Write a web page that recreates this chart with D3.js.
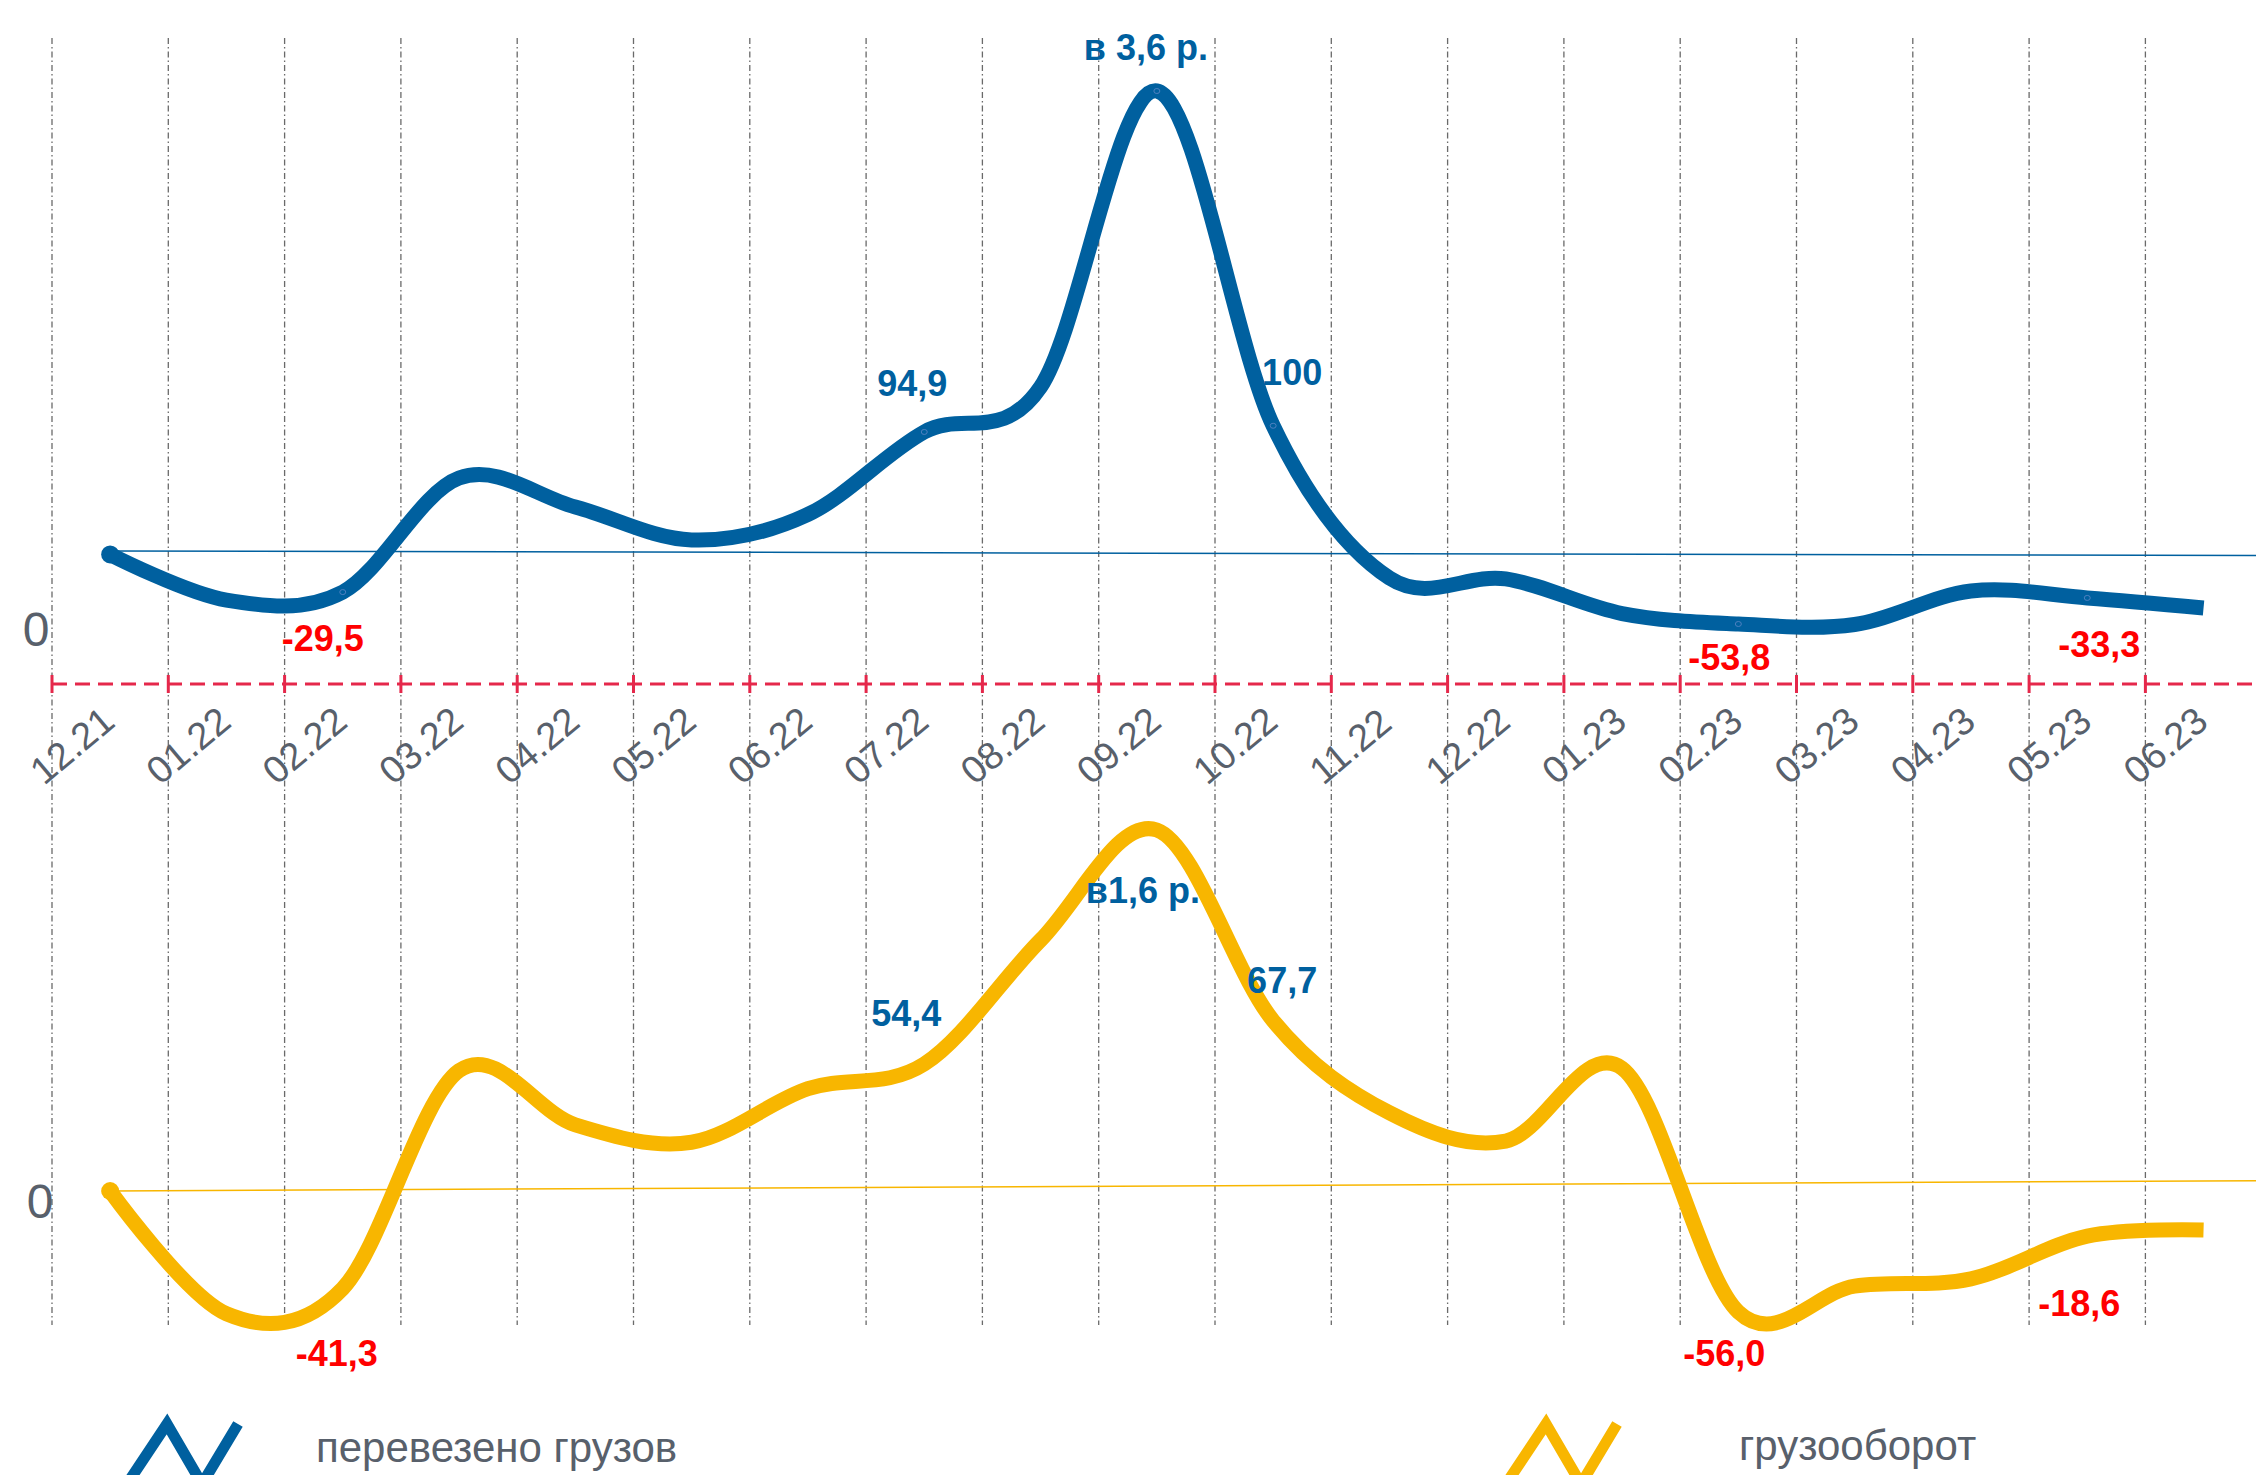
<!DOCTYPE html>
<meta charset="utf-8">
<title>Перевезено грузов и грузооборот</title>
<style>
  body { margin: 0; background: #fff; }
  svg { display: block; }
  text { font-family: 'Liberation Sans', Arial, sans-serif; }
</style>
<body>
<script src="https://d3js.org/d3.v7.min.js"></script>
<script>
// 12.21 ~ 06.23, 19 months
var months = ['12.21','01.22','02.22','03.22','04.22','05.22','06.22','07.22','08.22','09.22',
              '10.22','11.22','12.22','01.23','02.23','03.23','04.23','05.23','06.23'];

// перевезено грузов (top line)
var cargoValues = [-1.4, -27.1, -22.6, 41.7, 25.4, 6.8, 21.2, 67.7, 93.1, 260,
                   71.2, -14.7, -15.2, -34.7, -40.6, -40.9, -22.0, -25.9, -31.6];
// грузооборот (bottom line)
var turnoverValues = [0, -20.4, -16.2, 20.0, 11.0, 8.1, 17.0, 21.1, 41.7, 60.0,
                      28.3, 13.0, 8.3, 20.4, -20.1, -15.8, -14.6, -7.5, -6.5];

// thin zero lines: value at first point, value at right edge
var cargoRef = [0.6, -2.0];
var turnoverRef = [0, 1.7];

// data labels
var cargoLabelIdx = [2, 7, 9, 10, 14, 17];
var cargoLabels = ['-29,5', '94,9', 'в 3,6 р.', '100', '-53,8', '-33,3'];
var turnoverLabelIdx = [2, 7, 9, 10, 14, 17];
var turnoverLabels = ['-41,3', '54,4', 'в1,6 р.', '67,7', '-56,0', '-18,6'];

var legendNames = ['перевезено грузов', 'грузооборот'];

// layout ---------------------------------------------------------------
var W = 2256, H = 1475;
var blue = '#00609f', orange = '#f8b600', red = '#ff0000', axisRed = '#e5284b';
var gray = '#58606b', gridGray = '#6a6a6a';

// label offsets from their point (dx of text centre, dy of baseline)
var cargoLabelOff = [[-20, 59], [-12, -36], [-11, -31], [19, -41], [-9, 46], [12, 59]];
var turnoverLabelOff = [[-6, 78], [-18, -38], [-14, 73], [9, -28], [-14, 54], [-8, 80]];

var svg = d3.select('body').append('svg')
  .attr('width', W)
  .attr('height', H);

var x = d3.scaleBand()
  .domain(months)
  .range([52, 52 + 116.3 * months.length]);
var cx = function(i){ return x(months[i]) + x.bandwidth() / 2; };

var yTop = d3.scaleLinear().domain([0, 260]).range([552, 91]);
var yBot = d3.scaleLinear().domain([0, 60]).range([1191, 830]);

// vertical grid ----------------------------------------------------------
svg.append('g').selectAll('line')
  .data(months).enter().append('line')
    .attr('x1', function(d){ return x(d); })
    .attr('x2', function(d){ return x(d); })
    .attr('y1', 38)
    .attr('y2', 1325)
    .style('stroke', gridGray)
    .style('stroke-width', 1.3)
    .style('stroke-dasharray', '6,3,1.5,3');

// thin zero lines
function refLine(vals, y, color){
  svg.append('line')
    .attr('x1', cx(0)).attr('y1', y(vals[0]))
    .attr('x2', x.range()[1]).attr('y2', y(vals[1]))
    .style('stroke', color)
    .style('stroke-width', 1.5);
}
refLine(cargoRef, yTop, blue);
refLine(turnoverRef, yBot, orange);

// red dashed axis with ticks --------------------------------------------
var axisY = 684;
svg.append('line')
  .attr('x1', x.range()[0]).attr('x2', W)
  .attr('y1', axisY).attr('y2', axisY)
  .style('stroke', axisRed)
  .style('stroke-width', 3)
  .style('stroke-dasharray', '15,8');
svg.append('g').selectAll('line')
  .data(months).enter().append('line')
    .attr('x1', function(d){ return x(d); })
    .attr('x2', function(d){ return x(d); })
    .attr('y1', axisY - 9)
    .attr('y2', axisY + 9)
    .style('stroke', axisRed)
    .style('stroke-width', 3);

// month labels
svg.append('g').selectAll('text')
  .data(months).enter().append('text')
    .attr('transform', function(d){ return 'translate(' + (x(d) - 8) + ',786) rotate(-40)'; })
    .style('font-size', '38px')
    .style('fill', gray)
    .text(function(d){ return d; });

// "0" labels
svg.append('text').attr('x', 36).attr('y', 646)
  .style('font-size', '48px').style('fill', gray).style('text-anchor', 'middle').text('0');
svg.append('text').attr('x', 40).attr('y', 1218)
  .style('font-size', '48px').style('fill', gray).style('text-anchor', 'middle').text('0');

// lines -------------------------------------------------------------------
function drawSeries(vals, y, color){
  var line = d3.line()
    .x(function(d, i){ return cx(i); })
    .y(function(d){ return y(d); })
    .curve(d3.curveCatmullRom.alpha(0));
  svg.append('path')
    .attr('d', line(vals))
    .style('fill', 'none')
    .style('stroke', color)
    .style('stroke-width', 15);
  svg.append('circle')
    .attr('cx', cx(0)).attr('cy', y(vals[0]))
    .attr('r', 9)
    .style('fill', color);
}
drawSeries(cargoValues, yTop, blue);
drawSeries(turnoverValues, yBot, orange);

// small markers on the labelled points of the top line
svg.append('g').selectAll('ellipse')
  .data(cargoLabelIdx).enter().append('ellipse')
    .attr('cx', function(d){ return cx(d); })
    .attr('cy', function(d){ return yTop(cargoValues[d]); })
    .attr('rx', 3).attr('ry', 2.5)
    .style('fill', 'none')
    .style('stroke', '#4d80c0')
    .style('stroke-width', 1);

function drawLabels(idx, txt, off, vals, y){
  svg.append('g').selectAll('text')
    .data(idx).enter().append('text')
      .attr('x', function(d, k){ return cx(d) + off[k][0]; })
      .attr('y', function(d, k){ return y(vals[d]) + off[k][1]; })
      .style('text-anchor', 'middle')
      .style('font-size', '36px')
      .style('font-weight', 'bold')
      .style('fill', function(d, k){ return txt[k].charAt(0) == '-' ? red : blue; })
      .text(function(d, k){ return txt[k]; });
}
drawLabels(cargoLabelIdx, cargoLabels, cargoLabelOff, cargoValues, yTop);
drawLabels(turnoverLabelIdx, turnoverLabels, turnoverLabelOff, turnoverValues, yBot);

// legend ------------------------------------------------------------------
var legendIcon = [[0, 8], [40, -52], [75, 8], [111, -52]];
var legendPos = [[127, 1476, 316, 1462], [1506, 1476, 1739, 1460]];
var legendColors = [blue, orange];
for (var i = 0; i < 2; i++) {
  svg.append('path')
    .attr('transform', 'translate(' + legendPos[i][0] + ',' + legendPos[i][1] + ')')
    .attr('d', d3.line()(legendIcon))
    .style('fill', 'none')
    .style('stroke', legendColors[i])
    .style('stroke-width', 11);
  svg.append('text')
    .attr('x', legendPos[i][2])
    .attr('y', legendPos[i][3])
    .style('font-size', '42px')
    .style('fill', gray)
    .text(legendNames[i]);
}
</script>
</body>
